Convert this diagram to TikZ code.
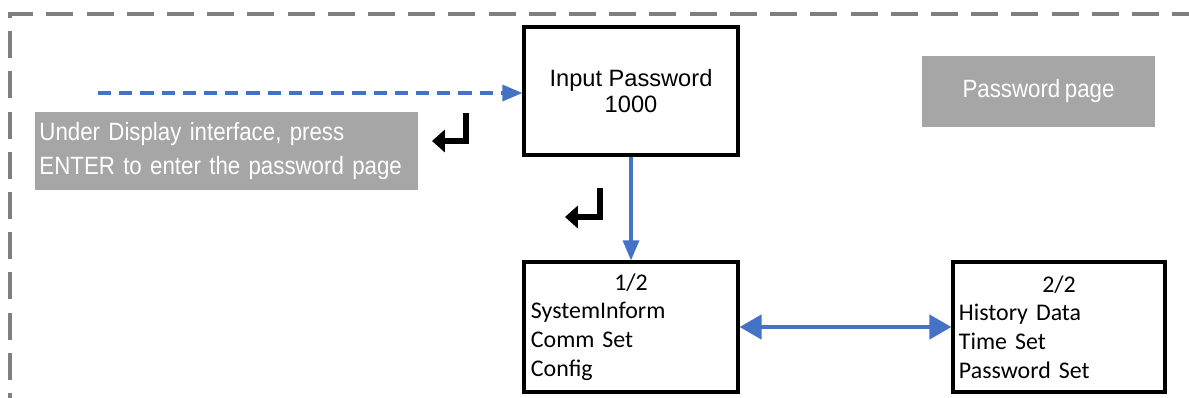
\documentclass[tikz,border=0pt]{standalone}
\usepackage{fontspec}
\setmainfont{Liberation Sans}
\newfontfamily\calibri[WordSpace=0.3]{Carlito}
\newfontfamily\narrowsans[FakeStretch=0.89,WordSpace=0.75]{Liberation Sans}
\usetikzlibrary{arrows.meta}
\definecolor{flowblue}{HTML}{4472C4}
\definecolor{notegray}{HTML}{A6A6A6}
\definecolor{framegray}{HTML}{7F7F7F}

\begin{document}
\begin{tikzpicture}[x=0.025cm,y=-0.025cm,
	menubox/.style={draw=black,line width=2.2pt,rectangle,inner sep=0pt,minimum width=5.35cm,minimum height=3.25cm},
	pagetext/.style={text width=5.0cm,align=left,font=\calibri\fontsize{17}{20.4}\selectfont},
	notebox/.style={fill=notegray,text=white,inner sep=0pt,font=\narrowsans\fontsize{17.8}{23.5}\selectfont},
	flow/.style={flowblue,line width=2.2pt,-{Triangle[length=0.5cm,width=0.4cm]}},
	enterkey/.style={black,line width=4.2pt,-{Triangle[length=0.32cm,width=0.55cm]}}]
	\useasboundingbox (0,0) rectangle (1189,397);
	\begin{scope}
	\clip (0,0) rectangle (1189,397);
	\draw [framegray,line width=2.2pt,dash pattern=on 0.675cm off 0.33cm] (10,420) -- (10,14) -- (1220,14);
	\end{scope}
	\node [menubox,minimum height=3.2cm,align=center,font=\fontsize{16.8}{18.5}\selectfont] (input) at (631,91) {Input Password\\1000};
	\node [menubox,pagetext] (page1) at (631,327) {\makebox[\linewidth]{1/2}\\SystemInform\\Comm Set\\Config};
	\node [menubox,pagetext,minimum width=5.3cm] (page2) at (1059,327) {\makebox[\linewidth]{2/2}\\History Data\\Time Set\\Password Set};
	\node [notebox,minimum width=9.575cm,minimum height=1.95cm,text width=9.35cm,align=left] (hint) at (226.5,151) {Under Display interface, press\\ENTER to enter the password page};
	\node [notebox,minimum width=5.825cm,minimum height=1.775cm] (title) at (1038.5,91.5) {Password page};
	\coordinate (entry) at (98,93);
	\draw [flow,dash pattern=on 0.33cm off 0.2cm] (entry) -- (entry -| input.west);
	\draw [flow] (input) -- (page1);
	\draw [flow,line width=3pt,{Triangle[length=0.55cm,width=0.6cm]}-{Triangle[length=0.55cm,width=0.6cm]}] (page1.east) -- (page2.west);
	\draw [enterkey] (466,113) |- (432,141);
	\draw [enterkey] (600,188) |- (565,217);
\end{tikzpicture}
\end{document}
